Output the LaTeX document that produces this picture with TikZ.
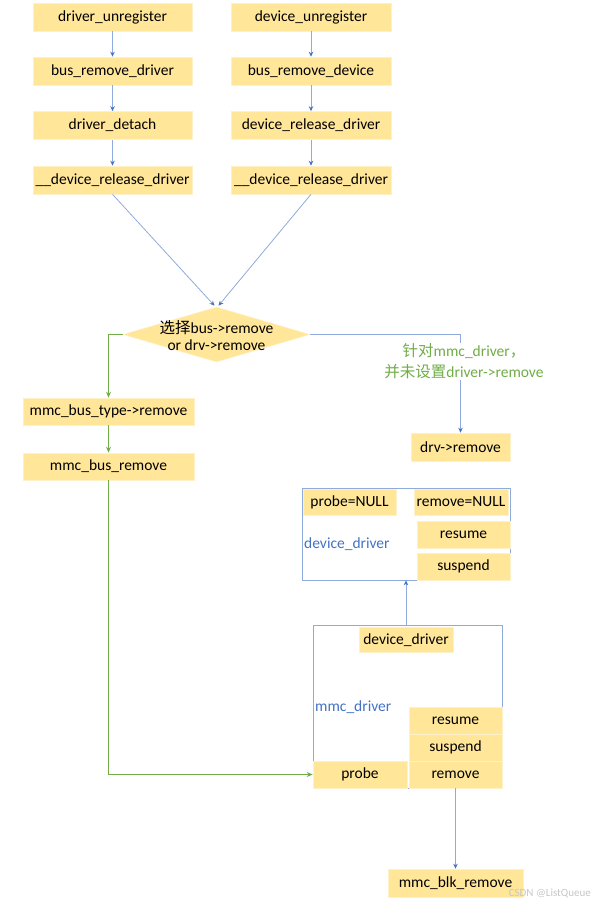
\documentclass[tikz,border=0pt]{standalone}
\usepackage{fontspec}
\setmainfont{Carlito}
\newfontfamily\cjk{Noto Sans CJK SC}
\usetikzlibrary{arrows.meta,shapes.geometric}
\definecolor{boxfill}{HTML}{FFE699}
\definecolor{lblue}{HTML}{8FAADC}
\definecolor{dblue}{HTML}{4472C4}
\definecolor{lgreen}{HTML}{70AD47}
\begin{document}
\begin{tikzpicture}[x=1pt,y=-1pt,
  font=\fontsize{15.5}{17}\selectfont,
  box/.style={rectangle, fill=boxfill, draw=boxfill!55!white, line width=0.6pt, inner sep=0pt, align=center, text=black},
  cont/.style={rectangle, fill=white, draw=lblue, line width=0.8pt, inner sep=0pt},
  barrow/.style={draw=lblue, line width=0.8pt, -{Stealth[length=5pt,width=4.5pt,color=dblue]}},
  garrow/.style={draw=lgreen, line width=1.5pt, -{Stealth[length=6pt,width=5pt]}},
  lbl/.style={anchor=west, inner sep=0pt, text=dblue}]
\useasboundingbox (0,0) rectangle (594,904);
% top left column
\node[box, minimum width=159pt, minimum height=28pt] (du) at (112.5,17) {driver\_unregister};
\node[box, minimum width=159pt, minimum height=28pt] (brd) at (112.5,71) {bus\_remove\_driver};
\node[box, minimum width=159pt, minimum height=28pt] (dd) at (112.5,125.5) {driver\_detach};
\node[box, minimum width=159pt, minimum height=28pt] (ldrd) at (112.5,180) {\_\_device\_release\_driver};
% top right column
\node[box, minimum width=160pt, minimum height=28pt] (dvu) at (311,17) {device\_unregister};
\node[box, minimum width=160pt, minimum height=28pt] (brdev) at (311,71) {bus\_remove\_device};
\node[box, minimum width=160pt, minimum height=28pt] (drd) at (311,125.5) {device\_release\_driver};
\node[box, minimum width=160pt, minimum height=28pt] (rdrd) at (311,180) {\_\_device\_release\_driver};
\draw[barrow] (du) -- (brd);
\draw[barrow] (brd) -- (dd);
\draw[barrow] (dd) -- (ldrd);
\draw[barrow] (dvu) -- (brdev);
\draw[barrow] (brdev) -- (drd);
\draw[barrow] (drd) -- (rdrd);
% diamond
\node[diamond, fill=boxfill, draw=boxfill!55!white, line width=0.6pt, minimum width=187pt, minimum height=55pt, inner sep=0pt] (dia) at (216.5,334.5) {};
\node[align=center, inner sep=0pt] (diat) at (216.5,335.5) {{\cjk 选择}bus->remove\\or drv->remove};
\draw[barrow] (ldrd.south) -- ([xshift=-2pt,yshift=1pt]dia.north);
\draw[barrow] (rdrd.south) -- ([xshift=2pt,yshift=1pt]dia.north);
% left green branch
\node[box, minimum width=171pt, minimum height=27pt] (mbt) at (108.5,411.5) {mmc\_bus\_type->remove};
\node[box, minimum width=171pt, minimum height=27pt] (mbr) at (108.5,466.5) {mmc\_bus\_remove};
\draw[garrow] (dia.west) -| (mbt.north);
\draw[garrow] (mbt) -- (mbr);
% right blue branch
\node[box, minimum width=99pt, minimum height=28pt] (drv) at (460.5,447) {drv->remove};
\draw[barrow] (dia.east) -| (drv.north);
\node[fill=white, text=lgreen, align=center, inner sep=1pt, font=\fontsize{15.5}{21}\selectfont] (note) at (464,361.5) {{\cjk 针对}mmc\_driver{\cjk ，}\\{\cjk 并未设置}driver->remove};
% device_driver container
\node[cont, minimum width=208pt, minimum height=92pt] (ddc) at (406,534) {};
\node[box, minimum width=93pt, minimum height=26pt] (pnull) at (349.5,502) {probe=NULL};
\node[box, minimum width=94pt, minimum height=26pt] (rnull) at (461,502) {remove=NULL};
\node[box, minimum width=93pt, minimum height=27pt] (dres) at (463.5,534.5) {resume};
\node[box, minimum width=93pt, minimum height=27pt] (dsus) at (463.5,566.5) {suspend};
\node[lbl] (ddlab) at (304,544) {device\_driver};
% mmc_driver container
\node[cont, minimum width=189pt, minimum height=163pt] (mdc) at (407.5,706.5) {};
\node[box, minimum width=94pt, minimum height=25pt] (ddin) at (406,640) {device\_driver};
\node[box, minimum width=93pt, minimum height=27pt] (mres) at (455.5,720.5) {resume};
\node[box, minimum width=93pt, minimum height=27pt] (msus) at (455.5,747.5) {suspend};
\node[box, minimum width=93pt, minimum height=27pt] (mrem) at (455.5,774.5) {remove};
\node[box, minimum width=94pt, minimum height=27pt] (probe) at (360,774.5) {probe};
\node[lbl] (mdlab) at (315,707) {mmc\_driver};
\draw[barrow] (ddin.north |- mdc.north) -- (ddin.north |- ddc.south);
\draw[garrow] (mbr.south) |- (probe.west);
% bottom
\node[box, minimum width=135pt, minimum height=28pt] (blk) at (455.5,883) {mmc\_blk\_remove};
\draw[barrow] (mrem) -- (blk);
\node[anchor=east, inner sep=0pt, text=gray!45, font=\fontsize{11}{13}\selectfont] (wm) at (591,893) {CSDN @ListQueue};
\end{tikzpicture}
\end{document}
